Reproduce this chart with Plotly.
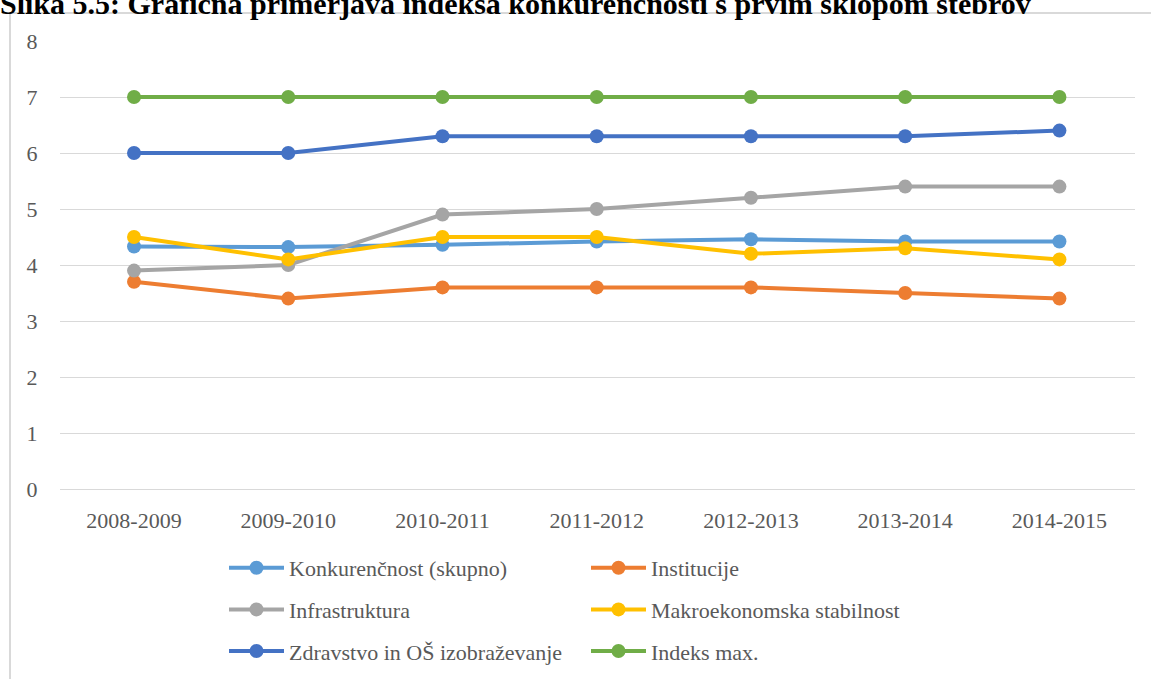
import plotly.graph_objects as go

categories = ["2008-2009", "2009-2010", "2010-2011", "2011-2012", "2012-2013", "2013-2014", "2014-2015"]
konkurencnost = [4.33, 4.32, 4.36, 4.42, 4.46, 4.42, 4.42]
institucije = [3.7, 3.4, 3.6, 3.6, 3.6, 3.5, 3.4]
infrastruktura = [3.9, 4.0, 4.9, 5.0, 5.2, 5.4, 5.4]
makro = [4.5, 4.1, 4.5, 4.5, 4.2, 4.3, 4.1]
zdravstvo = [6.0, 6.0, 6.3, 6.3, 6.3, 6.3, 6.4]
indeks_max = [7, 7, 7, 7, 7, 7, 7]

series = [
    ("Konkurenčnost (skupno)", konkurencnost, "#5B9BD5", "legend"),
    ("Institucije", institucije, "#ED7D31", "legend2"),
    ("Infrastruktura", infrastruktura, "#A5A5A5", "legend"),
    ("Makroekonomska stabilnost", makro, "#FFC000", "legend2"),
    ("Zdravstvo in OŠ izobraževanje", zdravstvo, "#4472C4", "legend"),
    ("Indeks max.", indeks_max, "#70AD47", "legend2"),
]

W, H = 1151, 679
L, R, T, B = 60, 16, 41, 190
pw, ph = W - L - R, H - T - B

def px2x(p):
    return (p - L) / pw

def px2y(p):
    return (H - B - p) / ph

font_family = "Liberation Serif"

fig = go.Figure()
for i, (name, vals, color, leg) in enumerate(series):
    fig.add_trace(go.Scatter(
        x=categories, y=vals, mode="lines+markers",
        name="<span style='font-family:Liberation Serif,serif'>" + name + "</span>",
        line=dict(color=color, width=4),
        marker=dict(color=color, size=14),
        legend=leg, legendgroup=name,
    ))

legend_common = dict(
    orientation="v", xanchor="left", yanchor="top",
    xref="container", yref="container",
    font=dict(family=font_family, size=22, color="#595959"),
    itemwidth=55, tracegroupgap=10, bgcolor="rgba(0,0,0,0)",
    itemclick=False, itemdoubleclick=False,
)

fig.update_layout(
    width=W, height=H,
    margin=dict(l=L, r=R, t=T, b=B, autoexpand=False),
    paper_bgcolor="white", plot_bgcolor="white",
    font=dict(family=font_family, color="#595959"),
    showlegend=True,
    legend=dict(x=224 / W, y=1 - 547 / H, **legend_common),
    legend2=dict(x=586 / W, y=1 - 547 / H, **legend_common),
    title=dict(
        text="<b>Slika 5.5: Grafična primerjava indeksa konkurenčnosti s prvim sklopom stebrov</b>",
        x=0, xref="container", xanchor="left",
        y=1 - 14 / H, yref="container", yanchor="bottom",
        font=dict(family=font_family, size=30, color="black"),
        pad=dict(l=0, r=0, t=0, b=0),
    ),
    xaxis=dict(
        type="category", range=[-0.48, 6.49], showgrid=False, zeroline=False, showline=False,
        tickfont=dict(family=font_family, size=22, color="#595959"),
        ticks="outside", ticklen=12, tickcolor="rgba(0,0,0,0)",
    ),
    yaxis=dict(
        range=[0, 8], dtick=1, showgrid=True, gridcolor="#D9D9D9", gridwidth=1,
        zeroline=True, zerolinecolor="#D9D9D9", zerolinewidth=1, showline=False,
        tickfont=dict(family=font_family, size=22, color="#595959"),
        ticks="outside", ticklen=17, tickcolor="rgba(0,0,0,0)",
    ),
    shapes=[dict(
        type="rect", xref="paper", yref="paper",
        x0=px2x(10), x1=px2x(1200), y0=px2y(720), y1=px2y(13),
        line=dict(color="#D9D9D9", width=2), fillcolor="rgba(0,0,0,0)", layer="below",
    )],
)

fig.write_html("out.html")
